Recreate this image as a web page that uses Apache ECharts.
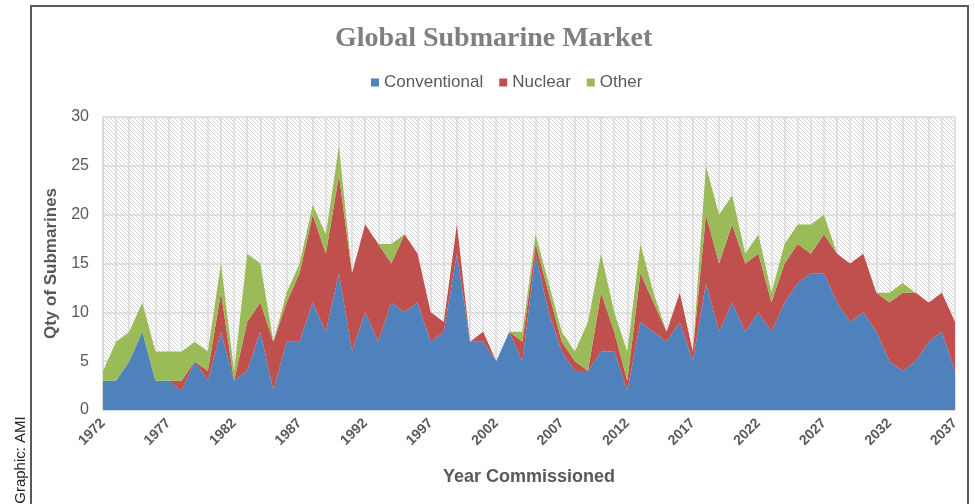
<!DOCTYPE html>
<html>
<head>
<meta charset="utf-8">
<script src="https://cdn.jsdelivr.net/npm/echarts@6/dist/echarts.min.js"></script>
<style>
  html, body { margin: 0; padding: 0; background: #fff; }
  #chart { width: 975px; height: 504px; }
</style>
</head>
<body>
<div id="chart"></div>
<script>
const years = []
for (let y = 1972; y <= 2037; y++) years.push(String(y))

// values, 1972 .. 2037
const conventional = [
  3, 3, 5, 8, 3, 3, 2, 5, 3, 8,
  3, 4, 8, 2, 7, 7, 11, 8, 14, 6,
  10, 7, 11, 10, 11, 7, 8, 16, 7, 7,
  5, 8, 5, 16, 10, 6, 4, 4, 6, 6,
  2, 9, 8, 7, 9, 5, 13, 8, 11, 8,
  10, 8, 11, 13, 14, 14, 11, 9, 10, 8,
  5, 4, 5, 7, 8, 4
]
const nuclear = [
  0, 0, 0, 0, 0, 0, 1, 0, 1, 4,
  0, 5, 3, 5, 4, 7, 9, 8, 10, 8,
  9, 10, 4, 8, 5, 3, 1, 3, 0, 1,
  0, 0, 2, 1, 2, 1, 1, 0, 6, 2,
  1, 5, 3, 1, 3, 1, 7, 7, 8, 7,
  6, 3, 4, 4, 2, 4, 5, 6, 6, 4,
  6, 8, 7, 4, 4, 5
]
const other = [
  1, 4, 3, 3, 3, 3, 3, 2, 2, 3,
  1, 7, 4, 0, 1, 1, 1, 2, 3, 0,
  0, 0, 2, 0, 0, 0, 0, 0, 0, 0,
  0, 0, 1, 1, 1, 1, 1, 5, 4, 2,
  3, 3, 1, 0, 0, 0, 5, 5, 3, 1,
  2, 1, 2, 2, 3, 2, 0, 0, 0, 0,
  1, 1, 0, 0, 0, 0
]

const COLORS = { conv: '#4f81bd', nuc: '#c0504d', other: '#9bbb59' }
const TEXT = '#595959'

// diagonal hatch for the plot background
const makeHatch = () => {
  const c = document.createElement('canvas')
  c.width = 4
  c.height = 4
  const ctx = c.getContext('2d')
  ctx.fillStyle = '#ffffff'
  ctx.fillRect(0, 0, 4, 4)
  ctx.strokeStyle = '#d4d4d4'
  ctx.lineWidth = 1
  ctx.beginPath()
  ctx.moveTo(-1, -1); ctx.lineTo(5, 5)
  ctx.moveTo(-1, 3); ctx.lineTo(1, 5)
  ctx.moveTo(3, -1); ctx.lineTo(5, 1)
  ctx.stroke()
  return c
}

const chart = echarts.init(document.getElementById('chart'))

const areaSeries = (name, data, color) => ({
  name,
  type: 'line',
  stack: 'total',
  data,
  symbol: 'none',
  lineStyle: { width: 0 },
  itemStyle: { color },
  areaStyle: { color, opacity: 1 }
})

chart.setOption({
  animation: false,
  title: {
    text: 'Global Submarine Market',
    left: 330,
    top: 20,
    textStyle: {
      fontFamily: 'Liberation Serif',
      fontSize: 28,
      fontWeight: 'bold',
      color: '#7f7f7f'
    }
  },
  legend: {
    left: 366,
    top: 69,
    icon: 'rect',
    itemWidth: 8,
    itemHeight: 8,
    itemGap: 16,
    textStyle: { fontFamily: 'Liberation Sans', fontSize: 17, color: TEXT },
    data: ['Conventional', 'Nuclear', 'Other']
  },
  grid: {
    left: 103,
    right: 20,
    top: 117,
    bottom: 94,
    show: true,
    borderWidth: 0,
    backgroundColor: { image: makeHatch(), repeat: 'repeat' }
  },
  xAxis: {
    type: 'category',
    data: years,
    boundaryGap: false,
    name: 'Year Commissioned',
    nameLocation: 'middle',
    nameGap: 58,
    nameTextStyle: { fontFamily: 'Liberation Sans', fontSize: 18, fontWeight: 'bold', color: TEXT },
    axisLine: { lineStyle: { color: '#d9d9d9', width: 1.5 } },
    axisTick: { show: false },
    axisLabel: {
      interval: 4,
      rotate: 45,
      margin: 11,
      fontFamily: 'Liberation Sans',
      fontSize: 14,
      fontWeight: 'bold',
      color: TEXT
    },
    splitLine: { show: true, interval: 0, lineStyle: { color: '#d9d9d9', width: 1.5 } }
  },
  yAxis: {
    type: 'value',
    min: 0,
    max: 30,
    interval: 5,
    name: 'Qty of Submarines',
    nameLocation: 'middle',
    nameGap: 34,
    nameTextStyle: { fontFamily: 'Liberation Sans', fontSize: 17, fontWeight: 'bold', color: TEXT },
    axisLine: { show: true, lineStyle: { color: '#d9d9d9', width: 1.5 } },
    axisTick: { show: false },
    axisLabel: { margin: 14, fontFamily: 'Liberation Sans', fontSize: 16, color: TEXT },
    splitLine: { lineStyle: { color: '#d9d9d9', width: 1.5 } }
  },
  series: [
    areaSeries('Conventional', conventional, COLORS.conv),
    areaSeries('Nuclear', nuclear, COLORS.nuc),
    areaSeries('Other', other, COLORS.other)
  ],
  graphic: [
    {
      type: 'rect',
      shape: { x: 31, y: 6, width: 937, height: 540 },
      style: { fill: 'none', stroke: '#595959', lineWidth: 2 },
      silent: true
    },
    {
      type: 'text',
      x: 21,
      y: 460,
      rotation: Math.PI / 2,
      style: {
        text: 'Graphic: AMI',
        fontFamily: 'Liberation Sans',
        fontSize: 15,
        fill: '#222',
        align: 'center',
        verticalAlign: 'middle'
      }
    }
  ]
})
</script>
</body>
</html>
